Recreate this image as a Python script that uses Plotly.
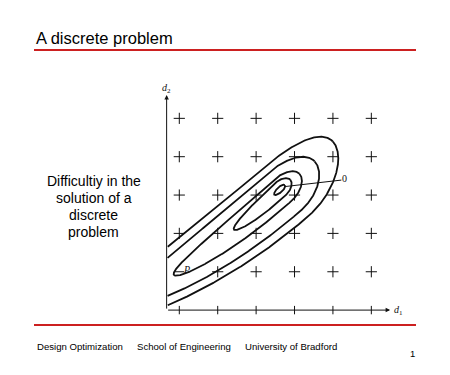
import numpy as np
import plotly.graph_objects as go

W, H = 450, 375
PAGE_OFFSET = 8  # the browser's default body margin

# ---- slide text ----
title_text = "A discrete problem"
side_text = ["Difficultiy in the", "solution of a", "discrete", "problem"]
side_text_y = [181, 198, 215, 232]
footer_items = ["Design Optimization", "School of Engineering", "University of Bradford"]
footer_x = [34.7, 134.7, 243]
page_number = "1"

# ---- diagram data (design-variable units) ----
grid_d1 = [1, 2, 3, 4, 5, 6]          # discrete values of d1
grid_d2 = [1, 2, 3, 4, 5]             # discrete values of d2
tick_d1 = [1, 2, 3, 4, 5, 6]          # tick marks on the d1 axis
point_p = (1, 1)                      # discrete point P

# banana-shaped level curves of the objective (outer -> inner)
contour_center = (3.63, 3.15)
contour_angle_deg = 43
contour_bend_tail = 0.02
contour_bend_head = 0.06
contour_right = [1.85, 1.15, 0.64, 0.36, 0.16]
contour_left = [5.8, 4.93, 3.55, 1.60, 0.21]
contour_half_width = [0.86, 0.65, 0.36, 0.21, 0.07]
contour_shift = [0.15, 0.12, 0.06, 0.0, 0.0]

axis_origin = (0.67, 0.0)
axis_x_end = 6.49
axis_y_end = 5.61

optimum_pointer_x = [3.74, 5.22]
optimum_pointer_y = [3.22, 3.39]
optimum_label_pos = (5.31, 3.43)
p_label_pos = (1.19, 1.05)

RED = "#cc2020"
INK = "#111111"


def px_x(p):
    return (p - PAGE_OFFSET) / W


def px_y(p):
    return 1 - (p - PAGE_OFFSET) / H


fig = go.Figure()

# grid of discrete points
gx, gy = [], []
for y in grid_d2:
    for x in grid_d1:
        if (x, y) != point_p:
            gx.append(x)
            gy.append(y)
fig.add_trace(go.Scatter(x=gx, y=gy, mode="markers",
                         marker=dict(symbol="cross-thin", size=8,
                                     line=dict(width=1, color=INK)),
                         hoverinfo="skip"))
fig.add_trace(go.Scatter(x=[point_p[0]], y=[point_p[1]], mode="markers",
                         marker=dict(symbol="line-ew", size=7,
                                     line=dict(width=1, color=INK)),
                         hoverinfo="skip"))

# ticks on d1 axis
fig.add_trace(go.Scatter(x=tick_d1, y=[axis_origin[1]] * len(tick_d1), mode="markers",
                         marker=dict(symbol="line-ns", size=6,
                                     line=dict(width=1, color=INK)),
                         hoverinfo="skip"))

# contours
th = np.radians(contour_angle_deg)
e = np.array([np.cos(th), np.sin(th)])
nv = np.array([np.sin(th), -np.cos(th)])
t = np.linspace(0, 2 * np.pi, 1800)
cx, cy = contour_center
for ar, al, b, sh in zip(contour_right, contour_left, contour_half_width, contour_shift):
    a = np.where(np.cos(t) >= 0, ar, al)
    u = a * np.cos(t)
    v = b * np.sin(t)
    k = np.where(u >= 0, contour_bend_head, contour_bend_tail)
    off = v - k * u ** 2 + sh * (u + 3.6) / 3.6
    X = cx + u * e[0] + off * nv[0]
    Y = cy + u * e[1] + off * nv[1]
    mask = (X < axis_origin[0] + 0.02) | (Y < axis_origin[1] + 0.02)
    xs = [None if m else float(xv) for xv, m in zip(X, mask)]
    ys = [None if m else float(yv) for yv, m in zip(Y, mask)]
    fig.add_trace(go.Scatter(x=xs, y=ys, mode="lines",
                             line=dict(color=INK, width=1.8),
                             connectgaps=False, hoverinfo="skip"))

# pointer to the optimum
fig.add_trace(go.Scatter(x=optimum_pointer_x, y=optimum_pointer_y, mode="lines",
                         line=dict(color=INK, width=1), hoverinfo="skip"))

# axes with arrows
fig.add_annotation(x=axis_x_end, y=axis_origin[1], ax=axis_origin[0], ay=axis_origin[1],
                   xref="x", yref="y", axref="x", ayref="y", text="",
                   showarrow=True, arrowhead=2, arrowsize=0.9, arrowwidth=1, arrowcolor=INK)
fig.add_annotation(x=axis_origin[0], y=axis_y_end, ax=axis_origin[0], ay=axis_origin[1],
                   xref="x", yref="y", axref="x", ayref="y", text="",
                   showarrow=True, arrowhead=2, arrowsize=0.9, arrowwidth=1, arrowcolor=INK)

serif = "Liberation Serif"
fig.add_annotation(x=axis_origin[0], y=axis_y_end + 0.18, xref="x", yref="y",
                   text="<i>d</i><sub>2</sub>", showarrow=False,
                   font=dict(family=serif, size=10, color=INK))
fig.add_annotation(x=6.70, y=axis_origin[1], xref="x", yref="y",
                   text="<i>d</i><sub>1</sub>", showarrow=False,
                   font=dict(family=serif, size=10, color=INK))
fig.add_annotation(x=optimum_label_pos[0], y=optimum_label_pos[1], xref="x", yref="y",
                   text="0", showarrow=False,
                   font=dict(family=serif, size=10, color=INK))
fig.add_annotation(x=p_label_pos[0], y=p_label_pos[1], xref="x", yref="y",
                   text="<i>P</i>", showarrow=False,
                   font=dict(family=serif, size=10, color=INK))

# slide text
sans = "Liberation Sans"
fig.add_annotation(x=px_x(34), y=px_y(38), xref="paper", yref="paper",
                   text=title_text, showarrow=False, xanchor="left", yanchor="middle",
                   font=dict(family=sans, size=16.5, color="#000000"))
for line, py in zip(side_text, side_text_y):
    fig.add_annotation(x=px_x(93.5), y=px_y(py), xref="paper", yref="paper",
                       text=line, showarrow=False, xanchor="center", yanchor="middle",
                       font=dict(family=sans, size=14, color="#000000"))
for label, px in zip(footer_items, footer_x):
    fig.add_annotation(x=px_x(px), y=px_y(346), xref="paper", yref="paper",
                       text=label, showarrow=False, xanchor="left", yanchor="middle",
                       font=dict(family=sans, size=9.6, color="#000000"))
fig.add_annotation(x=px_x(412), y=px_y(353), xref="paper", yref="paper",
                   text=page_number, showarrow=False, xanchor="center", yanchor="middle",
                   font=dict(family=sans, size=9.5, color="#000000"))

# red rules
for py in [50, 325]:
    fig.add_shape(type="line", xref="paper", yref="paper",
                  x0=px_x(34), x1=px_x(416), y0=px_y(py), y1=px_y(py),
                  line=dict(color=RED, width=2))

fig.update_layout(
    width=W, height=H, margin=dict(l=0, r=0, t=0, b=0),
    paper_bgcolor="white", plot_bgcolor="white", showlegend=False,
    xaxis=dict(range=[0.5, 6.9], domain=[px_x(160.1), px_x(405.9)], visible=False),
    yaxis=dict(range=[-0.3, 6.0], domain=[px_y(321.6), px_y(80)], visible=False),
)

fig.write_html("out.html")
